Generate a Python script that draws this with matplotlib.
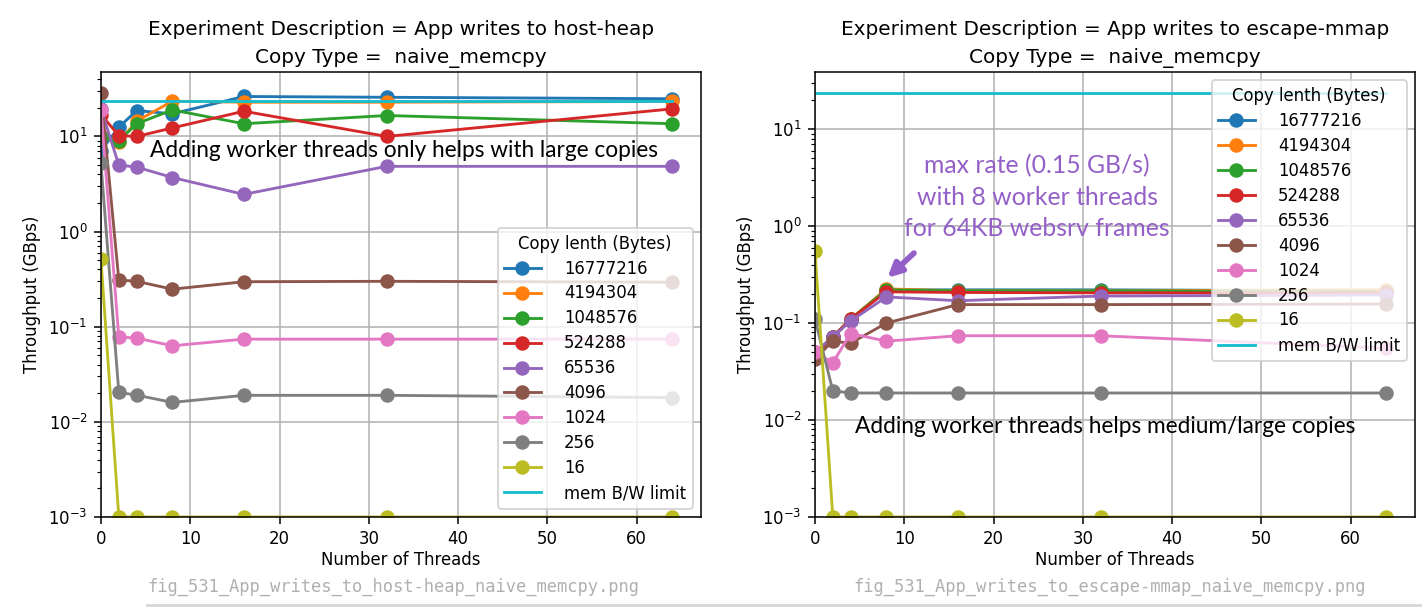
import numpy as np
import matplotlib
matplotlib.use("Agg")
import matplotlib.pyplot as plt
from matplotlib.lines import Line2D

# thread counts and copy sizes
threads = [0, 2, 4, 8, 16, 32, 64]
copy_sizes = ['16777216', '4194304', '1048576', '524288', '65536', '4096', '1024', '256', '16']
mem_limit = 23.5  # GBps

# App writes to host-heap (GBps), one row per copy size
heap_16777216 = [7.1, 12.5, 18.7, 17.3, 26.3, 25.8, 24.9]
heap_4194304 = [10.0, 8.7, 14.5, 23.5, 22.9, 22.9, 23.3]
heap_1048576 = [9.8, 9.0, 13.6, 19.0, 13.6, 16.6, 13.6]
heap_524288 = [17.0, 10.2, 10.0, 12.3, 18.4, 10.0, 19.5]
heap_65536 = [19.6, 5.0, 4.76, 3.7, 2.46, 4.85, 4.85]
heap_4096 = [28.5, 0.31, 0.30, 0.248, 0.297, 0.30, 0.294]
heap_1024 = [19.0, 0.078, 0.076, 0.063, 0.074, 0.074, 0.074]
heap_256 = [5.2, 0.0204, 0.0191, 0.016, 0.019, 0.019, 0.018]
heap_16 = [0.51, 0.001, 0.001, 0.001, 0.001, 0.001, 0.001]

# App writes to escape-mmap (GBps)
mmap_16777216 = [0.045, 0.072, 0.108, 0.22, 0.22, 0.22, 0.215]
mmap_4194304 = [0.046, 0.072, 0.11, 0.225, 0.215, 0.215, 0.22]
mmap_1048576 = [0.047, 0.072, 0.11, 0.22, 0.215, 0.215, 0.21]
mmap_524288 = [0.048, 0.072, 0.11, 0.21, 0.207, 0.205, 0.205]
mmap_65536 = [0.05, 0.072, 0.105, 0.186, 0.17, 0.19, 0.195]
mmap_4096 = [0.043, 0.065, 0.062, 0.1, 0.155, 0.155, 0.157]
mmap_1024 = [0.05, 0.039, 0.078, 0.065, 0.074, 0.074, 0.055]
mmap_256 = [0.11, 0.020, 0.019, 0.019, 0.019, 0.019, 0.019]
mmap_16 = [0.56, 0.001, 0.001, 0.001, 0.001, 0.001, 0.001]

heap = [heap_16777216, heap_4194304, heap_1048576, heap_524288, heap_65536,
        heap_4096, heap_1024, heap_256, heap_16]
mmap = [mmap_16777216, mmap_4194304, mmap_1048576, mmap_524288, mmap_65536,
        mmap_4096, mmap_1024, mmap_256, mmap_16]

DPI = 137
plt.rcParams['font.size'] = 8.7
plt.rcParams['axes.titlesize'] = 10.5
plt.rcParams['lines.markersize'] = 6.6

fig = plt.figure(figsize=(1424 / DPI, 610 / DPI), dpi=DPI)
ax1 = fig.add_axes([0.0709, 0.1525, 0.4213, 0.7295])
ax2 = fig.add_axes([0.5723, 0.1525, 0.4213, 0.7295])

purple = '#9460c8'
note_font = ['Lato', 'DejaVu Sans']


def draw(ax, rows, where, desc):
    for size, vals in zip(copy_sizes, rows):
        ax.plot(threads, vals, marker='o', label=size)
    ax.plot(threads, [mem_limit] * len(threads), label='mem B/W limit')
    ax.set_yscale('log')
    ax.set_xlim(left=0)
    ax.set_ylim(bottom=1e-3)
    ax.grid(True)
    ax.set_xlabel('Number of Threads', labelpad=1.5)
    ax.set_ylabel('Throughput (GBps)')
    ax.set_title('Experiment Description = ' + desc + '\nCopy Type =  naive_memcpy',
                 linespacing=1.65, pad=4.5)
    ax.legend(title='Copy lenth (Bytes)', loc=where, handletextpad=1.4,
              handlelength=2.2, labelspacing=0.42)


draw(ax1, heap, 'lower right', 'App writes to host-heap')
draw(ax2, mmap, 'upper right', 'App writes to escape-mmap')

ax1.text(34, 7.1, 'Adding worker threads only helps with large copies',
         ha='center', va='center', fontsize=11.9, family=note_font)
ax2.text(32.5, 0.0086, 'Adding worker threads helps medium/large copies',
         ha='center', va='center', fontsize=11.9, family=note_font)
ax2.text(24.9, 2.0, 'max rate (0.15 GB/s)\nwith 8 worker threads\nfor 64KB websrv frames',
         ha='center', va='center', fontsize=13, family=note_font,
         color=purple, linespacing=1.45)
ax2.annotate('', xy=(7.8, 0.275), xytext=(11.4, 0.56),
             arrowprops=dict(arrowstyle='-|>', color=purple, lw=3, mutation_scale=15))

# file-name captions below the charts
cap = dict(ha='center', va='center', family='DejaVu Sans Mono', fontsize=9, color='#b0b0b0')
fig.text(393 / 1424, 1 - 587 / 610, 'fig_531_App_writes_to_host-heap_naive_memcpy.png', **cap)
fig.text(1110 / 1424, 1 - 587 / 610, 'fig_531_App_writes_to_escape-mmap_naive_memcpy.png', **cap)
fig.add_artist(Line2D([147 / 1424, 1420 / 1424], [1 - 605 / 610] * 2,
                      color='#d8d8d8', lw=1.5, transform=fig.transFigure))

fig.savefig('out.png', dpi=DPI)
